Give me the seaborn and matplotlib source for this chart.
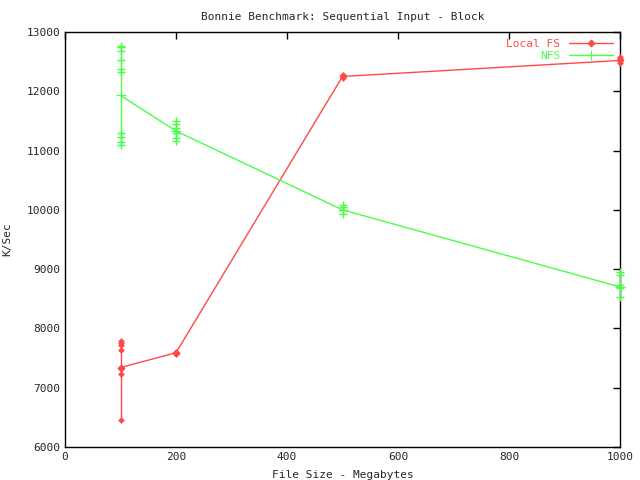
import matplotlib
matplotlib.use("Agg")
import matplotlib.pyplot as plt
import seaborn as sns
import pandas as pd

sizes = [100, 200, 500, 1000]
local_mean = [7340, 7590, 12250, 12520]
nfs_mean = [11930, 11330, 10000, 8700]

local_runs_x = [100, 100, 100, 100, 100, 100, 100, 200, 200, 500, 500, 1000, 1000, 1000]
local_runs_y = [7780, 7750, 7720, 7640, 7340, 7230, 6460, 7610, 7570, 12270, 12230, 12580, 12550, 12480]
nfs_runs_x = [100, 100, 100, 100, 100, 100, 100, 100, 100, 100,
              200, 200, 200, 200, 200, 200,
              500, 500, 500, 500,
              1000, 1000, 1000, 1000, 1000]
nfs_runs_y = [12760, 12740, 12680, 12530, 12370, 12320, 11290, 11230, 11140, 11090,
              11500, 11450, 11380, 11300, 11220, 11160,
              10080, 10040, 9990, 9930,
              8950, 8900, 8730, 8680, 8530]

RED = "#ff4848"
GREEN = "#48ff48"

sns.set_style("white")
plt.rcParams["font.family"] = ["DejaVu Sans Mono"]
plt.rcParams["font.size"] = 8

fig = plt.figure(figsize=(6.4, 4.8), dpi=100)
ax = fig.add_axes([65/640, 33/480, 555/640, 415/480])

mean_df = pd.DataFrame({"size": sizes * 2,
                        "kps": local_mean + nfs_mean,
                        "fs": ["Local FS"] * 4 + ["NFS"] * 4})
runs_local = pd.DataFrame({"size": local_runs_x, "kps": local_runs_y})
runs_nfs = pd.DataFrame({"size": nfs_runs_x, "kps": nfs_runs_y})

# vertical range lines
for df, c in [(runs_local, RED), (runs_nfs, GREEN)]:
    g = df.groupby("size")["kps"]
    ax.vlines(g.min().index, g.min().values, g.max().values, colors=c, lw=1, zorder=3)

sns.lineplot(data=mean_df[mean_df.fs == "Local FS"], x="size", y="kps", color=RED,
             lw=1, marker="D", markersize=3.5, markeredgecolor=RED, ax=ax, label="Local FS",
             zorder=4)
sns.lineplot(data=mean_df[mean_df.fs == "NFS"], x="size", y="kps", color=GREEN,
             lw=1, marker="+", markersize=7, markeredgecolor=GREEN, ax=ax, label="NFS",
             zorder=4)
sns.scatterplot(data=runs_local, x="size", y="kps", marker="D", s=10, color=RED,
                edgecolor=RED, ax=ax, legend=False, zorder=5)
sns.scatterplot(data=runs_nfs, x="size", y="kps", marker="+", s=40, color=GREEN,
                linewidth=1, ax=ax, legend=False, zorder=5)

for art in ax.lines + ax.collections:
    art.set_clip_on(False)

ax.set_xlim(0, 1000)
ax.set_ylim(6000, 13000)
ax.set_xticks(range(0, 1001, 200))
ax.set_yticks(range(6000, 13001, 1000))
ax.tick_params(direction="in", length=5, width=1, top=True, right=True, labelsize=8,
               color="black")
for s in ax.spines.values():
    s.set_color("black")
    s.set_linewidth(1)
    s.set_zorder(1)

ax.set_xlabel("File Size - Megabytes", fontsize=8, labelpad=6)
ax.set_ylabel("K/Sec", fontsize=8, labelpad=10)
ax.set_title("Bonnie Benchmark: Sequential Input - Block", fontsize=8, pad=9)

leg = ax.legend(loc="upper right", frameon=False, markerfirst=False, fontsize=8,
                handlelength=4, borderaxespad=0.2, labelspacing=0.2)
for t, c in zip(leg.get_texts(), [RED, GREEN]):
    t.set_color(c)

fig.savefig("out.png", dpi=100, facecolor="white")
